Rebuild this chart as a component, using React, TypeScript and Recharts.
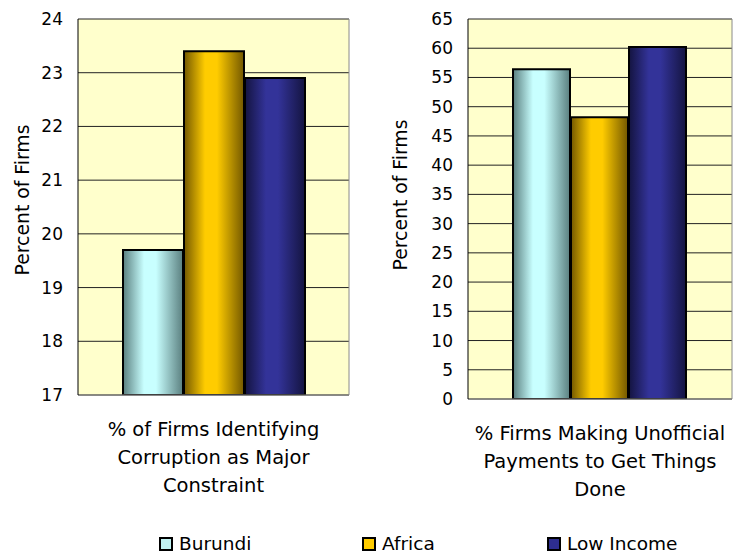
import React from 'react';
import { BarChart, Bar, XAxis, YAxis, CartesianGrid } from 'recharts';

const seriesNames = ['Burundi', 'Africa', 'Low Income'];
const seriesKeys = ['burundi', 'africa', 'lowIncome'];
const corruptionValues = [19.7, 23.4, 22.9];
const paymentValues = [56.4, 48.2, 60.2];
const corruptionLabel = ['% of Firms Identifying', 'Corruption as Major', 'Constraint'];
const paymentLabel = ['% Firms Making Unofficial', 'Payments to Get Things', 'Done'];
const corruptionTicks = [17, 18, 19, 20, 21, 22, 23, 24];
const paymentTicks = [0, 5, 10, 15, 20, 25, 30, 35, 40, 45, 50, 55, 60, 65];

const FONT = '"DejaVu Sans", Verdana, sans-serif';

// dark edge / light centre, like the cylinder-ish Excel fills
const gradients = [
  { edge: '#5a7f7f', mid: '#c8ffff' },
  { edge: '#735800', mid: '#ffcc00' },
  { edge: '#141440', mid: '#333399' },
];
const legendFills = ['#c0f2f2', '#ffcc00', '#2e2e8f'];

const toRow = (label: string[], values: number[]) => {
  const row: Record<string, any> = { name: label.join('\n') };
  seriesKeys.forEach((k, i) => (row[k] = values[i]));
  return [row];
};

const CategoryTick = ({ x, y, payload }: any) => {
  const lines = String(payload.value).split('\n');
  return (
    <g>
      {lines.map((line, i) => (
        <text
          key={i}
          x={x}
          y={y + 41 + i * 28}
          textAnchor="middle"
          fontFamily={FONT}
          fontSize={19.5}
          fill="#000"
        >
          {line}
        </text>
      ))}
    </g>
  );
};

const YLabel = ({ cx, cy }: { cx: number; cy: number }) => (
  <text
    x={cx}
    y={cy}
    transform={`rotate(-90 ${cx} ${cy})`}
    textAnchor="middle"
    dominantBaseline="central"
    fontFamily={FONT}
    fontSize={18.8}
    fill="#000"
  >
    Percent of Firms
  </text>
);

interface PanelProps {
  id: string;
  data: any[];
  ticks: number[];
  domain: [number, number];
  axisWidth: number;
  plotWidth: number;
  width: number;
  xAxisHeight: number;
  labelX: number;
  labelY: number;
}

const Panel = ({ id, data, ticks, domain, axisWidth, plotWidth, width, xAxisHeight, labelX, labelY }: PanelProps) => (
  <BarChart
    width={width}
    height={520}
    data={data}
    margin={{ top: 19, right: width - axisWidth - plotWidth, left: 0, bottom: 0 }}
    barCategoryGap={45}
    barGap={1}
  >
    <defs>
      {gradients.map((g, i) => (
        <linearGradient key={i} id={`${id}-grad-${i}`} x1="0" y1="0" x2="1" y2="0">
          <stop offset="0%" stopColor={g.edge} />
          <stop offset="35%" stopColor={g.mid} />
          <stop offset="55%" stopColor={g.mid} />
          <stop offset="100%" stopColor={g.edge} />
        </linearGradient>
      ))}
    </defs>
    <CartesianGrid vertical={false} fill="#ffffcc" stroke="#222" strokeOpacity={1} />
    <CartesianGrid
      horizontal={false}
      stroke="#8a8a8a"
      verticalCoordinatesGenerator={({ offset }: any) => [offset.left + offset.width]}
    />
    <XAxis
      dataKey="name"
      height={xAxisHeight}
      axisLine={{ stroke: '#808080' }}
      tickLine={false}
      tickSize={0}
      tickMargin={0}
      interval={0}
      tick={<CategoryTick />}
    />
    <YAxis
      width={axisWidth}
      domain={domain}
      ticks={ticks}
      interval={0}
      allowDataOverflow
      axisLine={{ stroke: '#000' }}
      tickLine={false}
      tickSize={0}
      tickMargin={15}
      tick={{ fontFamily: FONT, fontSize: 17, fill: '#000' }}
      label={<YLabel cx={labelX} cy={labelY} />}
    />
    {seriesKeys.map((k, i) => (
      <Bar
        key={k}
        dataKey={k}
        name={seriesNames[i]}
        fill={`url(#${id}-grad-${i})`}
        stroke="#000"
        strokeWidth={2}
        isAnimationActive={false}
      />
    ))}
  </BarChart>
);

const LegendItem = ({ name, fill, left }: { name: string; fill: string; left: number }) => (
  <div style={{ position: 'absolute', left, top: 533, display: 'flex', alignItems: 'center', height: 22 }}>
    <div
      style={{
        width: 10,
        height: 10,
        border: '2px solid #000',
        background: fill,
        marginRight: 6,
      }}
    />
    <span style={{ fontFamily: FONT, fontSize: 18.5, color: '#000', lineHeight: '22px' }}>{name}</span>
  </div>
);

const legendLefts = [159, 362, 547];

export default function App() {
  return (
    <div style={{ position: 'absolute', left: 0, top: 0, width: 736, height: 554, background: '#fff', overflow: 'hidden' }}>
      <div style={{ position: 'absolute', left: 0, top: 0 }}>
        <Panel
          id="a"
          data={toRow(corruptionLabel, corruptionValues)}
          ticks={corruptionTicks}
          domain={[17, 24]}
          axisWidth={78}
          plotWidth={271}
          width={368}
          xAxisHeight={125}
          labelX={22}
          labelY={200}
        />
      </div>
      <div style={{ position: 'absolute', left: 370, top: 0 }}>
        <Panel
          id="b"
          data={toRow(paymentLabel, paymentValues)}
          ticks={paymentTicks}
          domain={[0, 65]}
          axisWidth={98}
          plotWidth={264}
          width={366}
          xAxisHeight={121}
          labelX={30}
          labelY={195}
        />
      </div>
      {seriesNames.map((n, i) => (
        <LegendItem key={n} name={n} fill={legendFills[i]} left={legendLefts[i]} />
      ))}
    </div>
  );
}
